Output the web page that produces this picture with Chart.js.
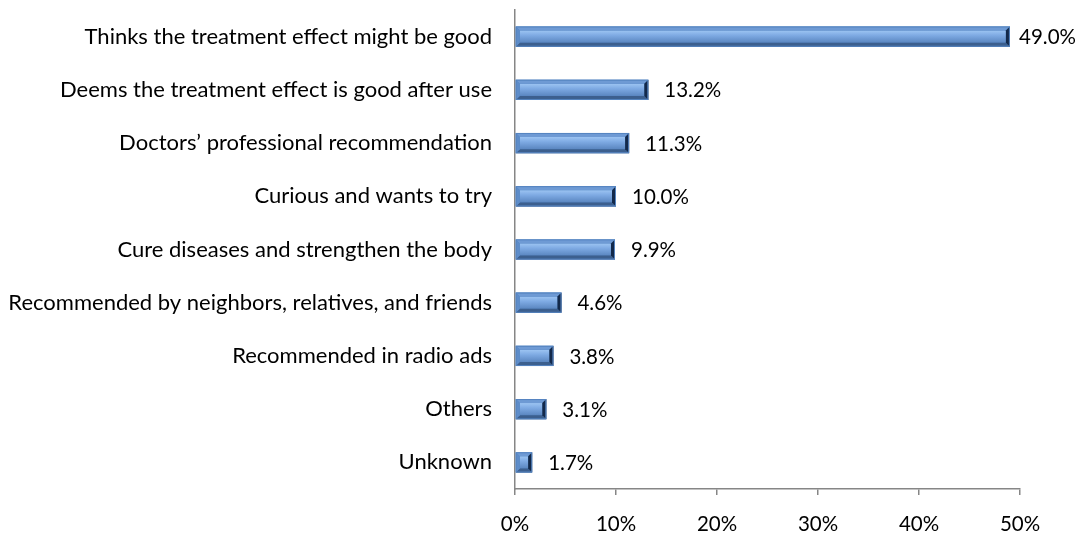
<!DOCTYPE html>
<html>
<head>
<meta charset="utf-8">
<script src="https://cdn.jsdelivr.net/npm/chart.js@4"></script>
<style>
  html, body { margin: 0; padding: 0; background: #fff; }
  #wrap { width: 1082px; height: 539px; position: relative; }
</style>
</head>
<body>
<div id="wrap"><canvas id="chart-reasons"></canvas></div>
<script>
const reasons = [
    "Thinks the treatment effect might be good",
    "Deems the treatment effect is good after use",
    "Doctors\u2019 professional recommendation",
    "Curious and wants to try",
    "Cure diseases and strengthen the body",
    "Recommended by neighbors, relatives, and friends",
    "Recommended in radio ads",
    "Others",
    "Unknown"
];

const shares = [49.0, 13.2, 11.3, 10.0, 9.9, 4.6, 3.8, 3.1, 1.7];

const xTicks = [0, 10, 20, 30, 40, 50];

const FONT = "Lato, 'Liberation Sans', sans-serif";
const AXIS_GRAY = '#868686';

// shaded edges on each bar so it looks like the old office bevel style
const bevelPlugin = {
    id: 'bevel',
    afterDatasetsDraw(chart) {
        const ctx = chart.ctx;
        const meta = chart.getDatasetMeta(0);
        meta.data.forEach(bar => {
            const p = bar.getProps(['x', 'y', 'base', 'height'], true);
            const x0 = Math.min(p.base, p.x), x1 = Math.max(p.base, p.x);
            const y0 = p.y - p.height / 2, y1 = p.y + p.height / 2;
            const b = Math.min(4, (x1 - x0) / 3);

            const poly = (pts, col) => {
                ctx.beginPath();
                ctx.moveTo(pts[0][0], pts[0][1]);
                for (let i = 1; i < pts.length; i++) ctx.lineTo(pts[i][0], pts[i][1]);
                ctx.closePath();
                ctx.fillStyle = col;
                ctx.fill();
            };

            ctx.save();
            // face
            const g = ctx.createLinearGradient(0, y0 + b, 0, y1 - b);
            g.addColorStop(0, '#9cc4f2');
            g.addColorStop(0.4, '#7eaae3');
            g.addColorStop(1, '#5a86c0');
            ctx.fillStyle = g;
            ctx.fillRect(x0 + b, y0 + b, x1 - x0 - 2 * b, y1 - y0 - 2 * b);
            // edges
            poly([[x0, y0], [x1, y0], [x1 - b, y0 + b], [x0 + b, y0 + b]], '#6e9ad4');
            poly([[x0, y1], [x1, y1], [x1 - b, y1 - b], [x0 + b, y1 - b]], '#3c5f8e');
            poly([[x0, y0], [x0 + b, y0 + b], [x0 + b, y1 - b], [x0, y1]], '#5d8cc9');
            poly([[x1, y0], [x1 - b, y0 + b], [x1 - b, y1 - b], [x1, y1]], '#13294a');
            ctx.strokeStyle = '#5584c0';
            ctx.lineWidth = 1;
            ctx.strokeRect(x0 + 0.5, y0 + 0.5, x1 - x0 - 1, y1 - y0 - 1);
            ctx.restore();
        });
    }
};

// value labels to the right of each bar
const valueLabelPlugin = {
    id: 'valueLabels',
    afterDatasetsDraw(chart) {
        const ctx = chart.ctx;
        const meta = chart.getDatasetMeta(0);
        ctx.save();
        ctx.font = '20.5px ' + FONT;
        ctx.fillStyle = '#000';
        ctx.textBaseline = 'middle';
        ctx.textAlign = 'left';
        meta.data.forEach((bar, i) => {
            const text = shares[i].toFixed(1) + '%';
            const w = ctx.measureText(text).width;
            let x = bar.x + 16;
            x = Math.min(x, chart.width - 6 - w);
            ctx.fillText(text, x, bar.y + 1);
        });
        ctx.restore();
    }
};

new Chart(document.getElementById('chart-reasons'), {
    type: 'bar',
    data: {
        labels: reasons,
        datasets: [{
            data: shares,
            backgroundColor: '#4f81bd',
            borderWidth: 0,
            categoryPercentage: 1,
            barPercentage: 0.38
        }]
    },
    options: {
        indexAxis: 'y',
        responsive: true,
        maintainAspectRatio: false,
        animation: false,
        layout: { autoPadding: false, padding: { top: 10, right: 62, bottom: 0, left: 0 } },
        plugins: {
            legend: { display: false },
            tooltip: { enabled: false }
        },
        scales: {
            x: {
                min: 0,
                max: 50,
                afterBuildTicks(scale) {
                    scale.ticks = xTicks.map(v => ({ value: v }));
                },
                afterFit(scale) {
                    scale.height = 50;
                },
                border: { color: AXIS_GRAY, width: 1.5 },
                grid: {
                    drawOnChartArea: false,
                    drawTicks: true,
                    tickLength: 6,
                    color: AXIS_GRAY,
                    lineWidth: 1.5
                },
                ticks: {
                    padding: 17,
                    color: '#000',
                    font: { family: FONT, size: 20.5 },
                    callback: v => v + '%'
                }
            },
            y: {
                afterFit(scale) {
                    // keep the plot edge fixed and stop label padding eating the height
                    scale.width = 515;
                    scale.paddingTop = 0;
                    scale.paddingBottom = 0;
                },
                border: { color: AXIS_GRAY, width: 1.5 },
                grid: { display: false, drawTicks: false },
                ticks: {
                    padding: 23,
                    color: '#000',
                    font: { family: FONT, size: 22 }
                }
            }
        }
    },
    plugins: [bevelPlugin, valueLabelPlugin]
});
</script>
</body>
</html>
